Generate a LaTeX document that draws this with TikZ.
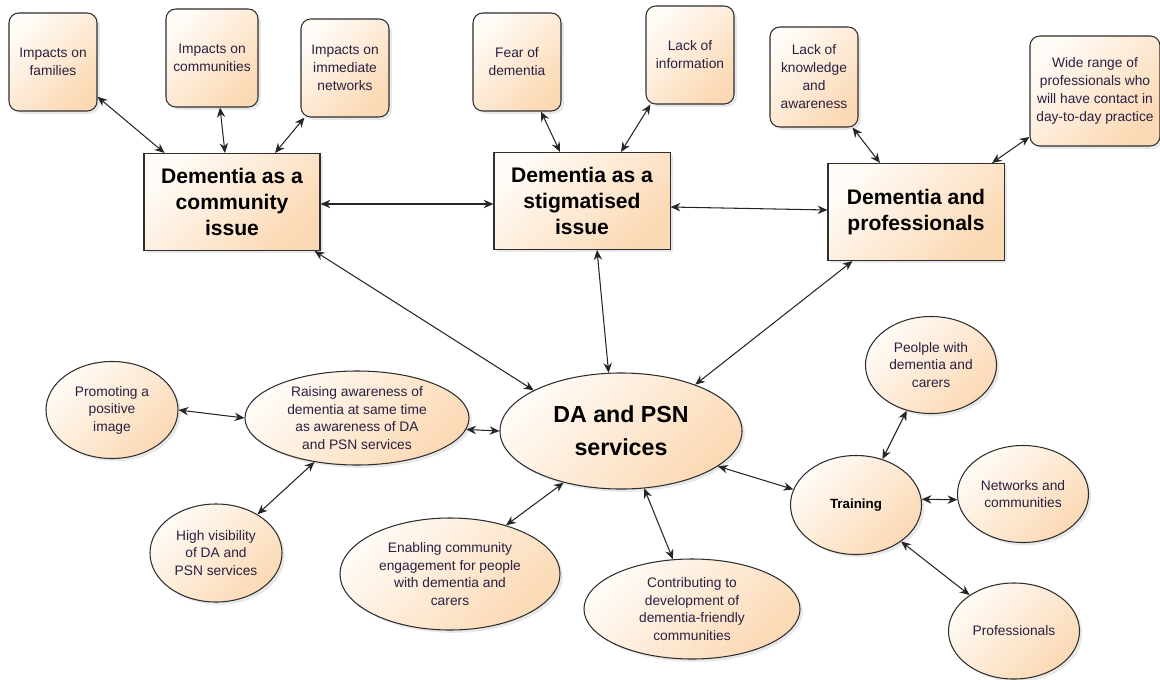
\documentclass[tikz,border=0pt]{standalone}
\usepackage{fontspec}
\setmainfont{Liberation Sans}
\usepackage{xcolor}
\usetikzlibrary{arrows.meta,shapes.geometric,shadows,calc}

\definecolor{peachlo}{HTML}{FFFBF6}
\definecolor{peachhi}{HTML}{FBD9B4}
\definecolor{edgec}{HTML}{2E2E2E}
\definecolor{inkc}{HTML}{2B2040}

\tikzset{
    base/.style={draw=edgec, line width=0.75pt, top color=peachlo, bottom color=peachhi,
        shading angle=45, drop shadow={opacity=0.18, shadow xshift=2pt, shadow yshift=-2pt},
        inner sep=0pt, align=center},
    smallbox/.style={base, rounded corners=7pt, minimum width=2.2cm, minimum height=2.45cm,
        text=inkc, font=\fontsize{9.8}{12.8}\selectfont},
    bigbox/.style={base, minimum width=4.4cm, minimum height=2.425cm,
        font=\fontsize{15}{18.8}\selectfont\bfseries},
    bubble/.style={base, ellipse, text=inkc, font=\fontsize{9.8}{12.4}\selectfont},
    conn/.style={draw=black!85, line width=0.75pt,
        {Stealth[length=7pt,width=6pt]}-{Stealth[length=7pt,width=6pt]}}
}

\begin{document}
\begin{tikzpicture}[x=0.025cm, y=-0.025cm]
            \useasboundingbox (0,0) rectangle (1160,679);

            % top row of causes
            \node[smallbox] (fam) at (53,62) {Impacts on\\families};
            \node[smallbox, minimum width=2.3cm] (comm) at (212,58) {Impacts on\\communities};
            \node[smallbox] (imm) at (345,68) {Impacts on\\immediate\\networks};
            \node[smallbox] (fear) at (517,62) {Fear of\\dementia};
            \node[smallbox] (info) at (690,55) {Lack of\\information};
            \node[smallbox, minimum height=2.5cm] (know) at (814,77) {Lack of\\knowledge\\and\\awareness};
            \node[smallbox, minimum width=3.25cm, minimum height=2.75cm] (wide) at (1095,91)
                {Wide range of\\professionals who\\will have contact in\\day-to-day practice};

            % the three issues
            \node[bigbox] (issue1) at (232,202) {Dementia as a\\community\\issue};
            \node[bigbox] (issue2) at (582,201) {Dementia as a\\stigmatised\\issue};
            \node[bigbox] (prof) at (916,212) {Dementia and\\professionals};

            % services and what they do
            \node[bubble, text=black, minimum width=6.05cm, minimum height=2.9cm,
                font=\fontsize{16.5}{23.5}\selectfont\bfseries] (dapsn) at (621,431) {DA and PSN\\services};
            \node[bubble, minimum width=5.6cm, minimum height=2.35cm] (raise) at (357,418)
                {Raising awareness of\\dementia at same time\\as awareness of DA\\and PSN services};
            \node[bubble, minimum width=3.3cm, minimum height=2.425cm] (promo) at (112,410) {Promoting a\\positive\\image};
            \node[bubble, minimum width=3.3cm, minimum height=2.45cm] (highvis) at (216,553) {High visibility\\of DA and\\PSN services};
            \node[bubble, minimum width=5.5cm, minimum height=2.8cm] (enabling) at (450,574)
                {Enabling community\\engagement for people\\with dementia and\\carers};
            \node[bubble, minimum width=5.4cm, minimum height=2.5cm] (contrib) at (692,609)
                {Contributing to\\development of\\dementia-friendly\\communities};
            \node[bubble, text=black, minimum width=3.275cm, minimum height=2.475cm,
                font=\fontsize{9.5}{12}\selectfont\bfseries] (training) at (856,505) {Training};
            \node[bubble, minimum width=3.275cm, minimum height=2.425cm] (people) at (931,365) {Peolple with\\dementia and\\carers};
            \node[bubble, minimum width=3.275cm, minimum height=2.425cm] (networks) at (1023,494) {Networks and\\communities};
            \node[bubble, minimum width=3.275cm, minimum height=2.4cm] (profs) at (1014,631) {Professionals};

            % connectors
            \draw[conn] (fam.-38) -- (issue1.144);
            \draw[conn] ($(comm.south)+(8,0)$) -- ($(issue1.north)+(-7,0)$);
            \draw[conn] ($(imm.south west)+(4,0)$) -- ($(issue1.north)+(43,0)$);
            \draw[conn] ($(fear.south)+(24,0)$) -- ($(issue2.north)+(-22,0)$);
            \draw[conn] ($(info.south west)+(5,0)$) -- ($(issue2.north)+(39,0)$);
            \draw[conn] ($(know.south east)+(-6,0)$) -- ($(prof.north)+(-36,0)$);
            \draw[conn] (wide.215) -- ($(prof.north)+(76,0)$);
            \draw[conn] ($(issue1.east)+(0,2)$) -- ($(issue2.west)+(0,3)$);
            \draw[conn] ($(issue2.east)+(0,6)$) -- ($(prof.west)+(0,-2)$);
            \draw[conn] ($(issue1.south east)+(-6,0)$) -- (dapsn.155);
            \draw[conn] ($(issue2.south)+(15,0)$) -- (dapsn.102);
            \draw[conn] ($(prof.south west)+(25,0)$) -- (dapsn.32);
            \draw[conn] (promo.east) -- (raise.west);
            \draw[conn] (raise.-6) -- (dapsn.west);
            \draw[conn] (highvis.43) -- (raise.226);
            \draw[conn] (enabling.41) -- (dapsn.222);
            \draw[conn] (dapsn.292) -- (contrib.111);
            \draw[conn] (dapsn.340) -- (training.166);
            \draw[conn] (training.60) -- (people.242);
            \draw[conn] (training.5) -- (networks.185);
            \draw[conn] (training.321) -- (profs.141);

        \end{tikzpicture}
\end{document}
